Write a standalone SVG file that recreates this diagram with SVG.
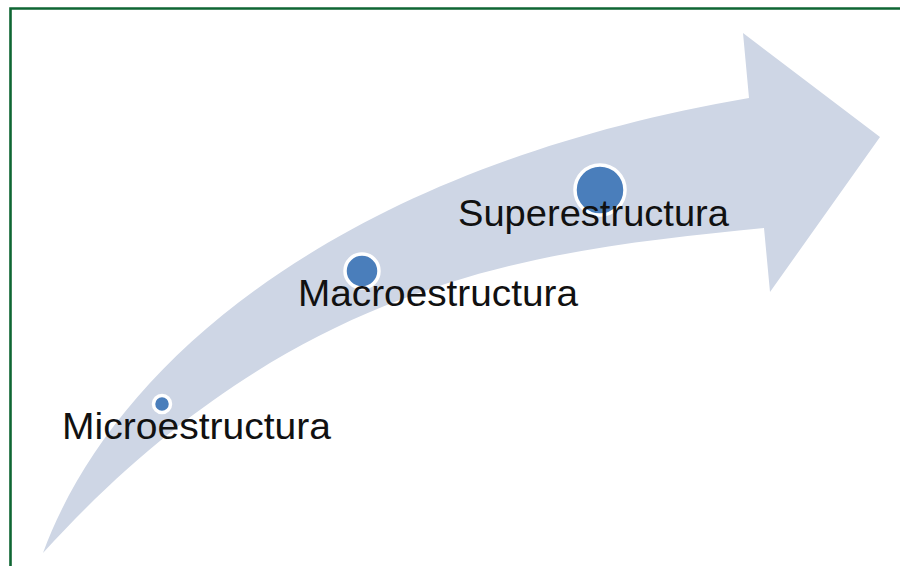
<svg xmlns="http://www.w3.org/2000/svg" width="900" height="566" viewBox="0 0 900 566">
<style>
.dot{fill:#4A7EBB;stroke:#FFFFFF;stroke-width:3.5}
.lbl{font-family:"Liberation Sans","Open Sans",Arial,sans-serif;font-size:36px;fill:#111111}
</style>
<rect x="0" y="0" width="900" height="566" fill="#FFFFFF"/>
<path d="M10.5,566 V8.5 H900" fill="none" stroke="#0F6633" stroke-width="2.6"/>
<g id="connectors">
<path id="arrow" d="M43,553 C110,370 330,170 749,98 L743,33 L880,137 L770,292 L764,228 C550,250 300,270 43,553 Z" fill="#CED6E5"/>
</g>
<g id="micro">
<circle class="dot" cx="162" cy="404" r="8.5"/>
<text class="lbl" x="62" y="439" textLength="269" lengthAdjust="spacingAndGlyphs">Microestructura</text>
</g>
<g id="macro">
<circle class="dot" cx="362" cy="271" r="17"/>
<text class="lbl" x="298" y="306" textLength="280" lengthAdjust="spacingAndGlyphs">Macroestructura</text>
</g>
<g id="super">
<circle class="dot" cx="600" cy="190" r="25"/>
<text class="lbl" x="458" y="226" textLength="271" lengthAdjust="spacingAndGlyphs">Superestructura</text>
</g>
</svg>
